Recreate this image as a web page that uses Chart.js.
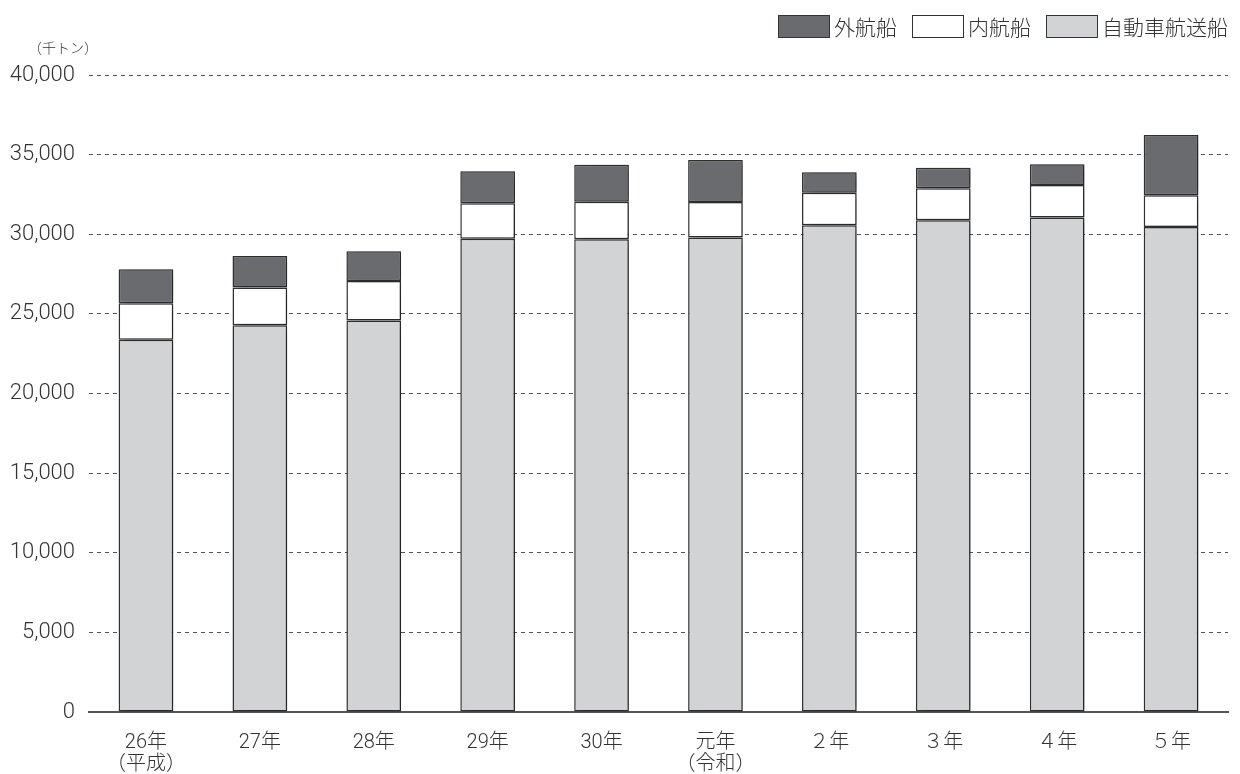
<!DOCTYPE html>
<html>
<head>
<meta charset="utf-8">
<script src="https://cdn.jsdelivr.net/npm/chart.js@4.4.1/dist/chart.umd.min.js"></script>
<style>
    body { margin: 0; background: #fff; }
    #wrap { position: relative; width: 1240px; height: 774px; }
    #unidad { position: absolute; left: 28px; top: 37px; font: 300 14px Roboto, "Noto Sans CJK JP", sans-serif; color: #333; }
    #leyenda { position: absolute; top: 11px; right: 12px; display: flex; font: 300 21px Roboto, "Noto Sans CJK JP", sans-serif; color: #333; }
    .item { display: flex; align-items: center; margin-left: 15px; }
    .caja { width: 50px; height: 21px; border: 1px solid #333; margin-right: 4px; }
</style>
</head>
<body>
<div id="wrap">
    <canvas id="graficoCarga" width="1240" height="774"></canvas>
    <div id="unidad">（千トン）</div>
    <div id="leyenda"></div>
</div>
<script>
const categorias = [['26年', '（平成）'], '27年', '28年', '29年', '30年', ['元年', '（令和）'], '２年', '３年', '４年', '５年'];
const autoFerry = [23370, 24290, 24580, 29720, 29690, 29790, 30570, 30880, 31050, 30460];
const naiko = [2300, 2360, 2490, 2225, 2355, 2236, 2040, 2006, 2045, 1989];
const gaiko = [2135, 1990, 1864, 2007, 2321, 2635, 1279, 1292, 1298, 3782];
const ticksY = [0, 5000, 10000, 15000, 20000, 25000, 30000, 35000, 40000];

const fuente = 'Roboto, "Noto Sans CJK JP", sans-serif';

document.addEventListener("DOMContentLoaded", function () {
    const series = [
        { label: '自動車航送船', data: autoFerry, color: '#d2d3d5' },
        { label: '内航船', data: naiko, color: '#ffffff' },
        { label: '外航船', data: gaiko, color: '#6a6b6f' }
    ];

    // leyenda en orden inverso (como en el original)
    const leyenda = document.getElementById('leyenda');
    series.slice().reverse().forEach(s => {
        const item = document.createElement('div');
        item.className = 'item';
        const caja = document.createElement('div');
        caja.className = 'caja';
        caja.style.background = s.color;
        const texto = document.createElement('span');
        texto.textContent = s.label;
        item.appendChild(caja);
        item.appendChild(texto);
        leyenda.appendChild(item);
    });

    const sombra = {
        id: 'sombra',
        beforeDatasetsDraw(chart) {
            const ctx = chart.ctx;
            ctx.save();
            ctx.shadowColor = 'rgba(0,0,0,0.35)';
            ctx.shadowBlur = 8;
            ctx.shadowOffsetX = 4;
            ctx.shadowOffsetY = 1;
        },
        afterDatasetsDraw(chart) {
            chart.ctx.restore();
        }
    };

    const ctx = document.getElementById('graficoCarga').getContext('2d');
    new Chart(ctx, {
        type: 'bar',
        data: {
            labels: categorias,
            datasets: series.map(s => ({
                label: s.label,
                data: s.data,
                backgroundColor: s.color,
                borderColor: '#333333',
                borderWidth: 1.5,
                borderSkipped: false,
                stack: 'a',
                barPercentage: 0.8,
                categoryPercentage: 0.6
            }))
        },
        options: {
            responsive: false,
            animation: false,
            layout: { padding: { top: 75, right: 12, left: 0, bottom: 0 } },
            scales: {
                x: {
                    stacked: true,
                    grid: { display: false },
                    border: { display: true, color: '#555', width: 2 },
                    ticks: {
                        color: '#333',
                        font: { family: fuente, size: 20, weight: 300, lineHeight: 1.1 },
                        padding: 12,
                        maxRotation: 0,
                        autoSkip: false
                    },
                    afterFit(scale) { scale.height = 62; }
                },
                y: {
                    stacked: true,
                    min: 0,
                    max: 40000,
                    afterBuildTicks(scale) { scale.ticks = ticksY.map(v => ({ value: v })); },
                    grid: {
                        color: c => c.tick.value === 0 ? 'rgba(0,0,0,0)' : '#555',
                        lineWidth: 1,
                        drawTicks: false
                    },
                    border: { display: false, dash: [4, 4] },
                    ticks: {
                        color: '#333',
                        padding: 14,
                        font: { family: fuente, size: 22, weight: 300 },
                        callback: v => v.toLocaleString('en-US')
                    },
                    afterFit(scale) { scale.width = 89; }
                }
            },
            plugins: {
                legend: { display: false },
                tooltip: { enabled: false }
            }
        },
        plugins: [sombra]
    });
});
</script>
</body>
</html>
